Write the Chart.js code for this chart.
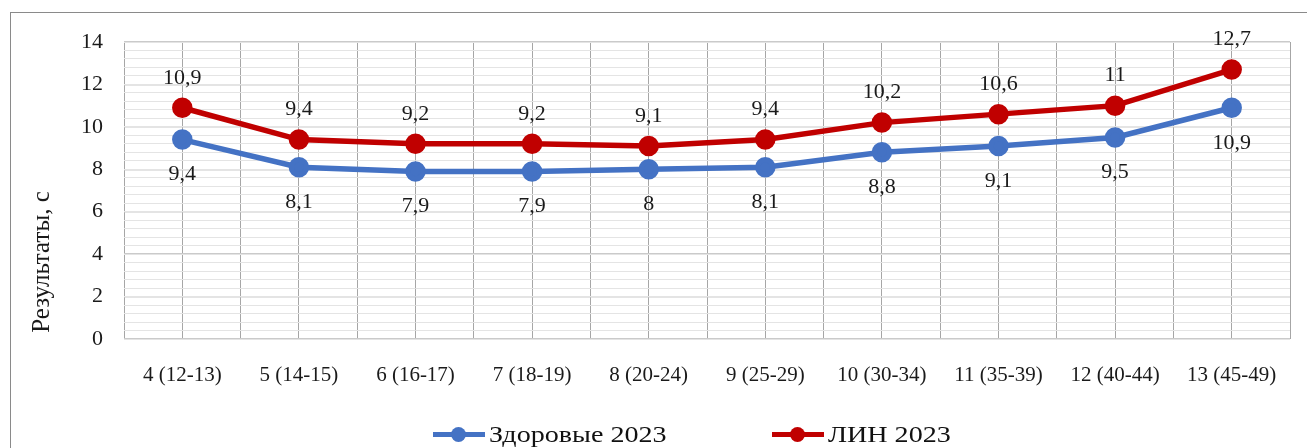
<!DOCTYPE html>
<html>
<head>
<meta charset="utf-8">
<script src="https://cdn.jsdelivr.net/npm/chart.js@4/dist/chart.umd.min.js"></script>
<style>
    body { margin: 0; background: #fff; }
    #wrap { position: relative; width: 1307px; height: 448px; overflow: hidden; }
    #frame { position: absolute; left: 10px; top: 12px; width: 1320px; height: 460px; border: 1px solid #8a8a8a; }
    #chart { position: absolute; left: 0; top: 0; }
    .item { position: absolute; top: 421px; display: flex; align-items: center;
            font-family: "Liberation Serif", serif; font-size: 24px; color: #111; white-space: nowrap; }
    .mark { position: relative; width: 52px; height: 5px; margin-right: 4px; }
    .mark i { position: absolute; left: 18px; top: -5px; width: 15px; height: 15px; border-radius: 50%; }
    .txt { display: inline-block; transform: scaleX(1.17); transform-origin: left center; }
</style>
</head>
<body>
<div id="wrap">
    <div id="frame"></div>
    <canvas id="chart" width="1307" height="448"></canvas>
</div>
<script>
const categories = ['4 (12-13)', '5 (14-15)', '6 (16-17)', '7 (18-19)', '8 (20-24)',
                    '9 (25-29)', '10 (30-34)', '11 (35-39)', '12 (40-44)', '13 (45-49)'];
const healthy2023 = [9.4, 8.1, 7.9, 7.9, 8, 8.1, 8.8, 9.1, 9.5, 10.9];
const lin2023 = [10.9, 9.4, 9.2, 9.2, 9.1, 9.4, 10.2, 10.6, 11, 12.7];
const seriesNames = ['Здоровые 2023', 'ЛИН 2023'];
const yTicks = [0, 2, 4, 6, 8, 10, 12, 14];
const yTitle = 'Результаты, с';

const BLUE = '#4472C4';
const RED = '#C00000';
const FONT = '"Liberation Serif", "Times New Roman", serif';

// value labels: blue below the point, red above
const valueLabels = {
    id: 'valueLabels',
    afterDatasetsDraw(chart) {
        const ctx = chart.ctx;
        ctx.save();
        ctx.font = `22px ${FONT}`;
        ctx.fillStyle = '#1a1a1a';
        ctx.textAlign = 'center';
        ctx.textBaseline = 'middle';
        chart.data.datasets.forEach((ds, i) => {
            const meta = chart.getDatasetMeta(i);
            const dy = ds.labelOffset;
            meta.data.forEach((pt, j) => {
                const txt = String(ds.data[j]).replace('.', ',');
                ctx.fillText(txt, pt.x, pt.y + dy);
            });
        });
        ctx.restore();
    }
};

// y axis title, sits lower than the axis middle like in the original
const axisTitle = {
    id: 'axisTitle',
    afterDraw(chart) {
        const ctx = chart.ctx;
        const area = chart.chartArea;
        ctx.save();
        ctx.translate(42, area.bottom - 77);
        ctx.rotate(-Math.PI / 2);
        ctx.font = `25px ${FONT}`;
        ctx.fillStyle = '#1a1a1a';
        ctx.textAlign = 'center';
        ctx.textBaseline = 'middle';
        ctx.fillText(yTitle, 0, 0);
        ctx.restore();
    }
};

const chart = new Chart(document.getElementById('chart'), {
    type: 'line',
    data: {
        labels: categories,
        datasets: [
            {
                label: seriesNames[0],
                data: healthy2023,
                borderColor: BLUE,
                backgroundColor: BLUE,
                borderWidth: 5.5,
                pointRadius: 7.5,
                pointHoverRadius: 7.5,
                labelOffset: 35
            },
            {
                label: seriesNames[1],
                data: lin2023,
                borderColor: RED,
                backgroundColor: RED,
                borderWidth: 5.5,
                pointRadius: 7.5,
                pointHoverRadius: 7.5,
                labelOffset: -30
            }
        ]
    },
    options: {
        responsive: false,
        animation: false,
        layout: { padding: { top: 42, right: 17, left: 0, bottom: 0 } },
        plugins: {
            legend: { display: false },
            tooltip: { enabled: false }
        },
        scales: {
            x: {
                type: 'category',
                offset: true,
                grid: { display: false },
                border: { display: false },
                ticks: { color: '#1a1a1a', padding: 16, font: { family: FONT, size: 21 }, maxRotation: 0 },
                afterFit: (s) => { s.height = 109; }
            },
            xg: {
                type: 'linear',
                position: 'top',
                min: -0.5,
                max: 9.5,
                ticks: { display: false, stepSize: 0.5, maxTicksLimit: 100 },
                grid: { color: '#a6a6a6', lineWidth: 1, drawTicks: false },
                border: { display: false },
                afterFit: (s) => { s.height = 0; }
            },
            y: {
                min: 0,
                max: 14,
                z: 0,
                afterBuildTicks: (s) => { s.ticks = yTicks.map(v => ({ value: v })); },
                ticks: { color: '#1a1a1a', padding: 21, font: { family: FONT, size: 22 } },
                grid: { color: '#cacaca', lineWidth: 1.5, drawTicks: false },
                border: { display: false },
                afterFit: (s) => { s.width = 124; }
            },
            ym: {
                type: 'linear',
                position: 'right',
                min: 0,
                max: 14,
                z: -1,
                ticks: { display: false, stepSize: 0.4, maxTicksLimit: 100 },
                grid: { color: '#e4e4e4', lineWidth: 1, drawTicks: false },
                border: { display: false },
                afterFit: (s) => { s.width = 0; }
            }
        }
    },
    plugins: [valueLabels, axisTitle]
});

// legend built from the datasets, items placed like in the original
const legendLeft = [433, 772];
const wrap = document.getElementById('wrap');
chart.data.datasets.forEach((ds, i) => {
    const item = document.createElement('div');
    item.className = 'item';
    item.style.left = legendLeft[i] + 'px';
    item.innerHTML = `<span class="mark" style="background:${ds.borderColor}"><i style="background:${ds.borderColor}"></i></span><span class="txt">${ds.label}</span>`;
    wrap.appendChild(item);
});
</script>
</body>
</html>
